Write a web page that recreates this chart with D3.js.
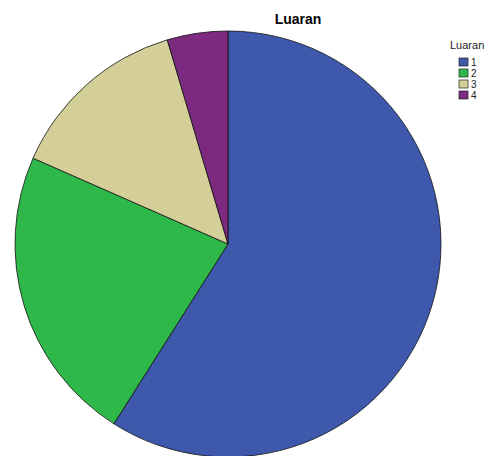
<!DOCTYPE html>
<html>
<head>
<meta charset="utf-8">
<script src="https://cdn.jsdelivr.net/npm/d3@7"></script>
<style>
body { margin: 0; background: #fff; }
svg { display: block; font-family: Arial, "Liberation Sans", sans-serif; }
</style>
</head>
<body>
<script>
var w = 487;
var h = 456;

// percentages
var categories = ["1", "2", "3", "4"];
var values = [59.0, 22.6, 13.8, 4.6];
var colors = ["#3e58ac", "#2fb84a", "#d4ce99", "#7b2a7f"];

var cx = 228, cy = 244, r = 213;

var svg = d3.select("body")
    .append("svg")
    .attr("width", w)
    .attr("height", h);

var color = d3.scaleOrdinal()
    .domain(categories)
    .range(colors);

var pie = d3.pie()
    .sort(null)
    .value(function(d){ return d.value; });

var arc = d3.arc()
    .innerRadius(0)
    .outerRadius(r);

var data = categories.map(function(c, i){
    return {cat: c, value: values[i]};
});

var g = svg.append("g")
    .attr("transform", "translate(" + cx + "," + cy + ")");

g.selectAll("path")
    .data(pie(data))
    .enter()
    .append("path")
    .attr("d", arc)
    .attr("fill", function(d){ return color(d.data.cat); })
    .attr("stroke", "#111")
    .attr("stroke-width", 0.8);

svg.append("text")
    .attr("x", 298)
    .attr("y", 24)
    .attr("text-anchor", "middle")
    .attr("font-size", 14)
    .attr("font-weight", "bold")
    .text("Luaran");

var legend = svg.append("g");

legend.append("text")
    .attr("x", 450)
    .attr("y", 49)
    .attr("font-size", 11)
    .attr("fill", "#222")
    .text("Luaran");

var items = legend.selectAll("g.item")
    .data(categories)
    .enter()
    .append("g")
    .attr("class", "item")
    .attr("transform", function(d, i){ return "translate(459," + (58 + i * 11) + ")"; });

items.append("rect")
    .attr("width", 9)
    .attr("height", 8)
    .attr("fill", function(d){ return color(d); })
    .attr("stroke", "#222")
    .attr("stroke-width", 0.7);

items.append("text")
    .attr("x", 12)
    .attr("y", 8)
    .attr("font-size", 10)
    .attr("fill", "#222")
    .text(function(d){ return d; });
</script>
</body>
</html>
